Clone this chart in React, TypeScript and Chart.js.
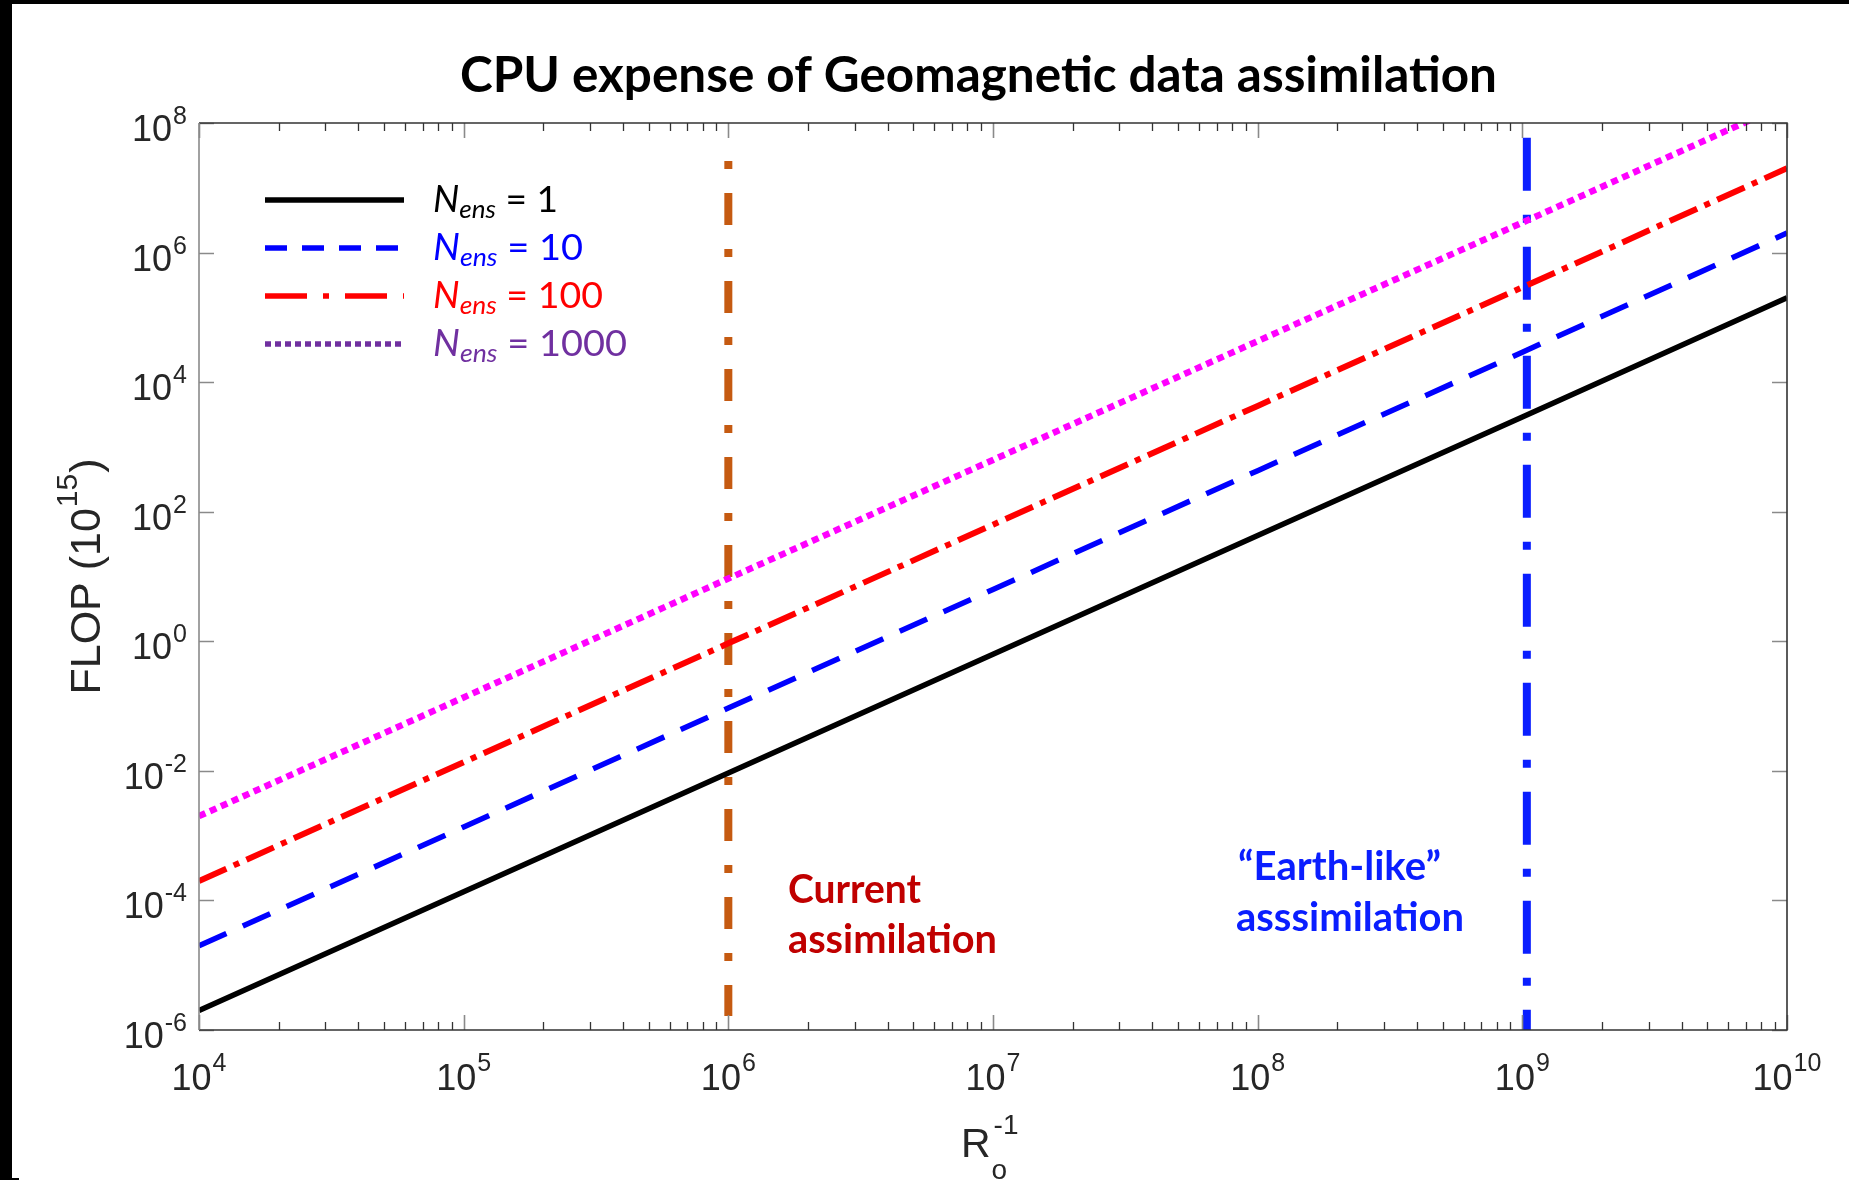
import React, { useEffect, useRef } from 'react';
import { Chart, registerables } from 'chart.js';

Chart.register(...registerables);

// ---- data ----
const rossbyInv = [1e4, 1e5, 1e6, 1e7, 1e8, 1e9, 1e10];
const flopN1 = [2.0e-6, 1.36e-4, 9.3e-3, 0.63, 43, 2.9e3, 2.0e5];
const flopN10 = [2.0e-5, 1.36e-3, 9.3e-2, 6.3, 430, 2.9e4, 2.0e6];
const flopN100 = [2.0e-4, 1.36e-2, 0.93, 63, 4.3e3, 2.9e5, 2.0e7];
const flopN1000 = [2.0e-3, 0.136, 9.3, 630, 4.3e4, 2.9e6, 2.0e8];
const currentX = [1e6, 1e6];
const currentY = [2.6e7, 1.65e-6];
const earthX = [1.04e9, 1.04e9];
const earthY = [5.9e7, 1e-6];
const xTickExps = [4, 5, 6, 7, 8, 9, 10];
const yTickExps = [-6, -4, -2, 0, 2, 4, 6, 8];
const ensembleSizes = ['1', '10', '100', '1000'];

const TITLE = 'CPU expense of Geomagnetic data assimilation';

const pts = (xs: number[], ys: number[]) => xs.map((x, i) => ({ x, y: ys[i] }));

function drawFit(ctx: CanvasRenderingContext2D, text: string, font: string, x: number, y: number, targetW: number, color: string) {
  ctx.font = font;
  const w = ctx.measureText(text).width;
  const sx = targetW / w;
  ctx.save();
  ctx.translate(x, y);
  ctx.scale(sx, 1);
  ctx.fillStyle = color;
  ctx.textAlign = 'left';
  ctx.textBaseline = 'alphabetic';
  ctx.fillText(text, 0, 0);
  ctx.restore();
}

const decorPlugin = {
  id: 'decor',
  beforeDraw(chart: any) {
    const ctx: CanvasRenderingContext2D = chart.ctx;
    ctx.save();
    ctx.fillStyle = '#ffffff';
    ctx.fillRect(0, 0, chart.width, chart.height);
    ctx.fillStyle = '#000000';
    ctx.fillRect(0, 0, chart.width, 4);
    ctx.fillRect(0, 0, 12, chart.height);
    ctx.fillRect(0, chart.height - 2, 19, 2);
    ctx.restore();
  },
  afterDraw(chart: any) {
    const ctx: CanvasRenderingContext2D = chart.ctx;
    const xs = chart.scales.x;
    const ys = chart.scales.y;
    const { left, right, top, bottom } = chart.chartArea;
    ctx.save();
    ctx.setLineDash([]);

    // minor x ticks
    ctx.strokeStyle = '#333333';
    ctx.lineWidth = 1.3;
    for (let e = 4; e < 10; e++) {
      for (let m = 2; m <= 9; m++) {
        const px = Math.round(xs.getPixelForValue(m * Math.pow(10, e))) + 0.5;
        ctx.beginPath();
        ctx.moveTo(px, bottom); ctx.lineTo(px, bottom - 8);
        ctx.moveTo(px, top); ctx.lineTo(px, top + 8);
        ctx.stroke();
      }
    }
    // major ticks
    ctx.strokeStyle = '#8a8a8a';
    ctx.lineWidth = 1.6;
    for (const e of xTickExps) {
      const px = Math.round(xs.getPixelForValue(Math.pow(10, e))) + 0.5;
      ctx.beginPath();
      ctx.moveTo(px, bottom); ctx.lineTo(px, bottom - 15);
      ctx.moveTo(px, top); ctx.lineTo(px, top + 15);
      ctx.stroke();
    }
    for (const e of yTickExps) {
      const py = Math.round(ys.getPixelForValue(Math.pow(10, e))) + 0.5;
      ctx.beginPath();
      ctx.moveTo(left, py); ctx.lineTo(left + 15, py);
      ctx.moveTo(right, py); ctx.lineTo(right - 15, py);
      ctx.stroke();
    }
    // box
    ctx.lineWidth = 1.6;
    ctx.strokeStyle = '#333333';
    ctx.beginPath();
    ctx.moveTo(left, top); ctx.lineTo(right, top); ctx.lineTo(right, bottom); ctx.lineTo(left, bottom);
    ctx.stroke();
    ctx.strokeStyle = '#8a8a8a';
    ctx.beginPath();
    ctx.moveTo(left, top); ctx.lineTo(left, bottom);
    ctx.stroke();

    // tick labels
    const mainFont = '36px "Liberation Sans", Arial, sans-serif';
    const supFont = '25px "Liberation Sans", Arial, sans-serif';
    ctx.fillStyle = '#262626';
    ctx.textAlign = 'left';
    ctx.textBaseline = 'alphabetic';
    for (const e of xTickExps) {
      const px = xs.getPixelForValue(Math.pow(10, e));
      ctx.font = mainFont;
      const wm = ctx.measureText('10').width;
      ctx.font = supFont;
      const sup = String(e);
      const ws = ctx.measureText(sup).width;
      const start = px - (wm + 1 + ws) / 2;
      ctx.font = mainFont;
      ctx.fillText('10', start, bottom + 60);
      ctx.font = supFont;
      ctx.fillText(sup, start + wm + 1, bottom + 41);
    }
    for (const e of yTickExps) {
      const py = ys.getPixelForValue(Math.pow(10, e));
      ctx.font = mainFont;
      const wm = ctx.measureText('10').width;
      ctx.font = supFont;
      const sup = String(e);
      const ws = ctx.measureText(sup).width;
      const start = left - 12 - (wm + 1 + ws);
      ctx.font = mainFont;
      ctx.fillText('10', start, py + 18);
      ctx.font = supFont;
      ctx.fillText(sup, start + wm + 1, py + 1);
    }

    // y axis label
    ctx.save();
    ctx.translate(100, (top + bottom) / 2);
    ctx.rotate(-Math.PI / 2);
    const yMain = '43px "Liberation Sans", Arial, sans-serif';
    const ySup = '30px "Liberation Sans", Arial, sans-serif';
    ctx.font = yMain;
    const w1 = ctx.measureText('FLOP (10').width;
    const w3 = ctx.measureText(')').width;
    ctx.font = ySup;
    const w2 = ctx.measureText('15').width;
    let cx = -(w1 + w2 + w3 + 2) / 2;
    ctx.fillStyle = '#262626';
    ctx.font = yMain;
    ctx.fillText('FLOP (10', cx, 0);
    cx += w1 + 1;
    ctx.font = ySup;
    ctx.fillText('15', cx, -23);
    cx += w2 + 1;
    ctx.font = yMain;
    ctx.fillText(')', cx, 0);
    ctx.restore();

    // x axis label
    ctx.fillStyle = '#262626';
    ctx.font = '41px "Liberation Sans", Arial, sans-serif';
    const rx = 961;
    ctx.fillText('R', rx, 1157);
    const wr = ctx.measureText('R').width;
    ctx.font = '28px "Liberation Sans", Arial, sans-serif';
    ctx.fillText('-1', rx + wr + 3, 1134);
    ctx.fillText('o', rx + wr + 1, 1179);

    // title
    drawFit(ctx, TITLE, 'bold 50px Lato, "Open Sans", sans-serif', 460, 92, 1037, '#000000');

    // annotations
    const annFont = 'bold 40px Lato, "Open Sans", sans-serif';
    drawFit(ctx, 'Current', annFont, 788, 903, 133, '#C00000');
    drawFit(ctx, 'assimilation', annFont, 788, 953, 209, '#C00000');
    drawFit(ctx, '\u201CEarth-like\u201D', annFont, 1238, 880, 203, '#0A1EFF');
    drawFit(ctx, 'asssimilation', annFont, 1236, 931, 228, '#0A1EFF');

    // legend
    const legColors = ['#000000', '#0000FF', '#FF0000', '#7030A0'];
    const legDash = [[], [22, 15], [42, 16, 6, 16], [6, 4]];
    const legWidth = [5.5, 5.5, 5.5, 5.5];
    const legBase = [212, 260, 308, 356];
    const legTarget = [125, 150, 170, 194];
    ensembleSizes.forEach((n, i) => {
      const b = legBase[i];
      ctx.save();
      ctx.strokeStyle = legColors[i];
      ctx.lineWidth = legWidth[i];
      ctx.setLineDash(legDash[i]);
      ctx.lineCap = 'butt';
      ctx.beginPath();
      ctx.moveTo(265, b - 12);
      ctx.lineTo(404, b - 12);
      ctx.stroke();
      ctx.restore();

      const fN = 'italic 37px Lato, "Open Sans", sans-serif';
      const fSub = 'italic 26px Lato, "Open Sans", sans-serif';
      const fEq = '37px Lato, "Open Sans", sans-serif';
      const eq = ' = ' + n;
      ctx.font = fN; const wN = ctx.measureText('N').width;
      ctx.font = fSub; const wS = ctx.measureText('ens').width;
      ctx.font = fEq; const wE = ctx.measureText(eq).width;
      const sx = legTarget[i] / (wN + wS + wE);
      ctx.save();
      ctx.translate(433, b);
      ctx.scale(sx, 1);
      ctx.fillStyle = legColors[i];
      ctx.font = fN; ctx.fillText('N', 0, 0);
      ctx.font = fSub; ctx.fillText('ens', wN, 6);
      ctx.font = fEq; ctx.fillText(eq, wN + wS, 0);
      ctx.restore();
    });

    ctx.restore();
  },
};

export default function App() {
  const canvasRef = useRef<HTMLCanvasElement | null>(null);

  useEffect(() => {
    if (!canvasRef.current) return;
    const base = { showLine: true, pointRadius: 0, pointHoverRadius: 0, fill: false, tension: 0, clip: 0, borderCapStyle: 'butt' as const };
    const chart = new Chart(canvasRef.current, {
      type: 'scatter',
      data: {
        datasets: [
          { ...base, label: 'N1', data: pts(rossbyInv, flopN1), borderColor: '#000000', borderWidth: 5.5, borderDash: [] },
          { ...base, label: 'N10', data: pts(rossbyInv, flopN10), borderColor: '#0000FF', borderWidth: 5.5, borderDash: [30, 18] },
          { ...base, label: 'N100', data: pts(rossbyInv, flopN100), borderColor: '#FF0000', borderWidth: 6, borderDash: [30, 8, 6, 8] },
          { ...base, label: 'N1000', data: pts(rossbyInv, flopN1000), borderColor: '#FF00FF', borderWidth: 6.5, borderDash: [7, 5] },
          { ...base, label: 'current', data: pts(currentX, currentY), borderColor: '#C55A11', borderWidth: 8, borderDash: [8, 24, 32, 24] },
          { ...base, label: 'earth', data: pts(earthX, earthY), borderColor: '#0A1EFF', borderWidth: 8, borderDash: [53, 24, 8, 24] },
        ],
      },
      options: {
        animation: false,
        responsive: false,
        devicePixelRatio: 1,
        layout: { padding: { left: 199, top: 123, right: 1849 - 1787, bottom: 1180 - 1030 } },
        scales: {
          x: { type: 'logarithmic', min: 1e4, max: 1e10, display: false },
          y: { type: 'logarithmic', min: 1e-6, max: 1e8, display: false },
        },
        plugins: { legend: { display: false }, tooltip: { enabled: false }, title: { display: false } },
        events: [],
      },
      plugins: [decorPlugin],
    });
    return () => chart.destroy();
  }, []);

  return (
    <div style={{ position: 'fixed', left: 0, top: 0, width: 1849, height: 1180, background: '#fff' }}>
      <canvas ref={canvasRef} width={1849} height={1180} style={{ display: 'block', width: 1849, height: 1180 }} />
    </div>
  );
}
